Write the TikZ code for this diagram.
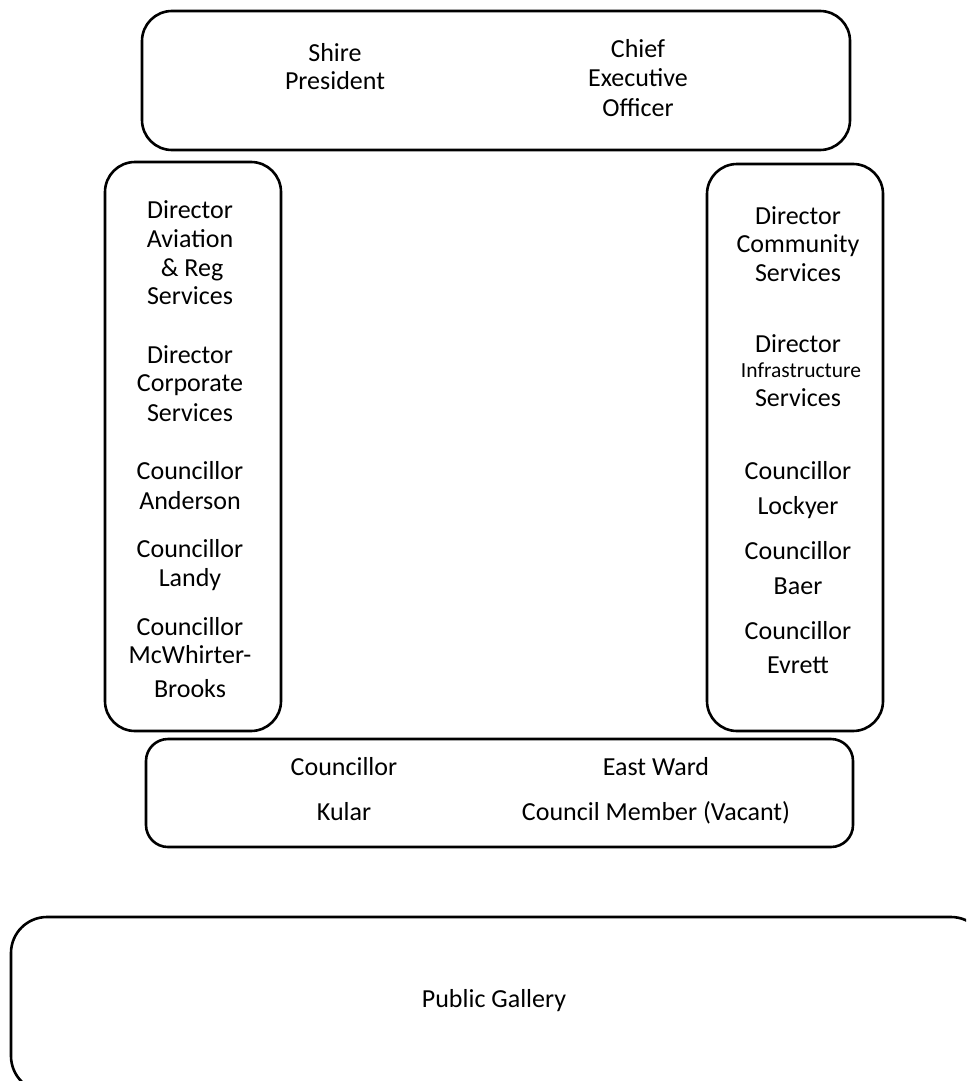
\documentclass[tikz,border=0pt]{standalone}
\usepackage{fontspec}
\setmainfont{Carlito}
\begin{document}
\begin{tikzpicture}[x=1pt,y=-1pt,
  panel/.style={draw=black,line width=2.6pt,rounded corners=#1},
  panel/.default=30pt,
  lbl/.style={anchor=base,inner sep=0pt,font=\fontsize{26}{30}\selectfont},
  slbl/.style={anchor=base,inner sep=0pt,font=\fontsize{21.5}{25}\selectfont}]
\useasboundingbox (0,0) rectangle (966,1081);
% boxes
\draw[panel] (142,11) rectangle (850,150);
\draw[panel] (105,162) rectangle (281,731);
\draw[panel] (707,164) rectangle (883,731);
\draw[panel=22pt] (146,739) rectangle (853,847);
\begin{scope}
\clip (0,0) rectangle (966,1081);
\draw[panel=36pt] (11,917) rectangle (987,1092);
\end{scope}
% top
\node[lbl] (sp1) at (335,62) {Shire};
\node[lbl] (sp2) at (335,89) {President};
\node[lbl] (ceo1) at (638,57) {Chief};
\node[lbl] (ceo2) at (638,86) {Executive};
\node[lbl] (ceo3) at (638,116) {Officer};
% left
\node[lbl] (l1) at (190,218) {Director};
\node[lbl] (l2) at (190,247) {Aviation};
\node[lbl] (l3) at (192,276) {\& Reg};
\node[lbl] (l4) at (190,304) {Services};
\node[lbl] (l5) at (190,363) {Director};
\node[lbl] (l6) at (190,391) {Corporate};
\node[lbl] (l7) at (190,421) {Services};
\node[lbl] (l8) at (190,479) {Councillor};
\node[lbl] (l9) at (190,509) {Anderson};
\node[lbl] (l10) at (190,557) {Councillor};
\node[lbl] (l11) at (190,586) {Landy};
\node[lbl] (l12) at (190,635) {Councillor};
\node[lbl] (l13) at (190,663) {McWhirter-};
\node[lbl] (l14) at (190,697) {Brooks};
% right
\node[lbl] (r1) at (798,224) {Director};
\node[lbl] (r2) at (798,252) {Community};
\node[lbl] (r3) at (798,281) {Services};
\node[lbl] (r4) at (798,352) {Director};
\node[slbl] (r5) at (801,377) {Infrastructure};
\node[lbl] (r6) at (798,406) {Services};
\node[lbl] (r7) at (798,479) {Councillor};
\node[lbl] (r8) at (798,514) {Lockyer};
\node[lbl] (r9) at (798,559) {Councillor};
\node[lbl] (r10) at (798,594) {Baer};
\node[lbl] (r11) at (798,639) {Councillor};
\node[lbl] (r12) at (798,673) {Evrett};
% ward
\node[lbl] (w1) at (344,775) {Councillor};
\node[lbl] (w2) at (344,820) {Kular};
\node[lbl] (w3) at (656,775) {East Ward};
\node[lbl] (w4) at (656,820) {Council Member (Vacant)};
% gallery
\node[lbl] (pg) at (494,1007) {Public Gallery};
\end{tikzpicture}
\end{document}
